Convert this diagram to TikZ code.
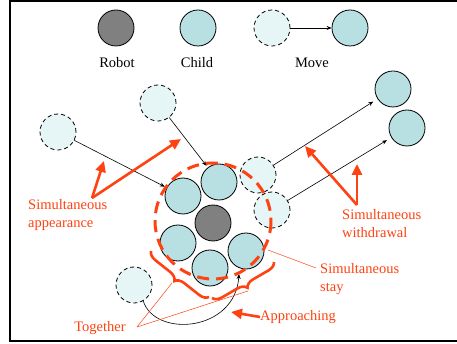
\documentclass[tikz,border=0pt]{standalone}
\usepackage{fontspec}
\setmainfont{Liberation Serif}
\usetikzlibrary{arrows.meta,decorations.pathreplacing}
\definecolor{childc}{RGB}{184,223,226}
\definecolor{ghostc}{RGB}{230,245,246}
\definecolor{robotc}{RGB}{128,128,128}
\definecolor{redc}{RGB}{255,66,18}
\begin{document}
\begin{tikzpicture}[x=1pt,y=-1pt,
  child/.style={circle,draw,fill=childc,minimum size=36pt,inner sep=0pt,line width=0.8pt},
  robot/.style={circle,draw,fill=robotc,minimum size=36pt,inner sep=0pt,line width=0.8pt},
  ghost/.style={circle,draw,dashed,fill=ghostc,minimum size=36pt,inner sep=0pt,line width=0.8pt,dash pattern=on 4pt off 3pt},
  move/.style={-{Stealth[length=5pt,width=4pt]},line width=0.6pt},
  redarrow/.style={-{Triangle[length=11pt,width=10pt]},line width=2.6pt,draw=redc},
  redthin/.style={draw=redc,line width=0.5pt},
  lbl/.style={font=\fontsize{14.5}{18}\selectfont,inner sep=0pt},
  rlbl/.style={lbl,text=redc,align=left,anchor=west},
  bracestyle/.style={draw=redc,line width=2.6pt,decorate,decoration={brace,mirror,amplitude=9pt}},
  ring/.style={draw=redc,line width=3pt,dash pattern=on 12pt off 7pt}
]
\useasboundingbox (0,0) rectangle (457,344);
\fill[white] (0,0) rectangle (457,344);
\draw[line width=2pt] (10,1) rectangle (470,341);

% legend
\node[robot] (lr) at (116,28) {};
\node[child] (lc) at (198,28) {};
\node[ghost] (lg) at (272,28) {};
\node[child] (lm) at (350,28) {};
\draw[move] (lg) -- (lm);
\node[lbl] (tr) at (117,63) {Robot};
\node[lbl] (tc) at (197,63) {Child};
\node[lbl] (tm) at (312,63) {Move};

% cluster
\node[child] (c1) at (183,196) {};
\node[child] (c2) at (219,182) {};
\node[robot] (rb) at (213,223) {};
\node[child] (c4) at (178,243) {};
\node[child] (c5) at (210,268) {};
\node[child] (c6) at (246,251) {};

% ghosts
\node[ghost] (g1) at (58,132) {};
\node[ghost] (g2) at (158,103) {};
\node[ghost] (g3) at (258,175) {};
\node[ghost] (g4) at (272,210) {};
\node[ghost] (g5) at (134,285) {};

% targets
\node[child] (t1) at (393,89) {};
\node[child] (t2) at (407,128) {};

% moves
\draw[move,shorten >=2pt] (g1) -- (c1);
\draw[move,shorten >=2pt] (g2) -- (c2);
\draw[move,shorten >=5pt] (g3) -- (t1);
\draw[move,shorten >=5pt] (g4) -- (t2);
\coordinate (aptip) at (239,274);
\draw[move] (g5.300) .. controls (155,338) and (235,332) .. (aptip);

% red dashed ring on top of the group
\coordinate (ringc) at (213,221);
\draw[ring] (ringc) circle (58);

% braces
\coordinate (bl1) at (151,251);
\coordinate (bl2) at (209,297);
\coordinate (br1) at (212,298);
\coordinate (br2) at (274,262);
\draw[bracestyle] (bl1) -- (bl2);
\draw[bracestyle] (br1) -- (br2);
\coordinate (cuspL) at (172,283);
\coordinate (cuspR) at (248,291);

% labels
\node[rlbl] (app) at (28,215) {Simultaneous\\appearance};
\node[rlbl] (wd) at (342,224) {Simultaneous\\withdrawal};
\node[rlbl] (st) at (320,279) {Simultaneous\\stay};
\node[lbl,text=redc] (tog) at (100,328) {Together};
\node[rlbl] (appr) at (260,317) {Approaching};

% red arrows
\coordinate (ap0) at (92,198);
\coordinate (ap1) at (104,161);
\coordinate (ap2) at (181,139);
\draw[redarrow] (ap0) -- (ap1);
\draw[redarrow] (ap0) -- (ap2);
\coordinate (wd0) at (357,205);
\coordinate (wd1) at (305,146);
\coordinate (wd2) at (357,164);
\draw[redarrow] (wd0) -- (wd1);
\draw[redarrow] (wd0) -- (wd2);
\coordinate (apA) at (231,312);
\draw[redarrow] (appr.west) -- (apA);

% thin red lines
\coordinate (stA) at (268,250);
\coordinate (stB) at (316,268);
\draw[redthin] (stA) -- (stB);
\coordinate (togA) at (137,327);
\draw[redthin] (togA) -- (cuspL);
\draw[redthin] (togA) -- (cuspR);
\end{tikzpicture}
\end{document}
